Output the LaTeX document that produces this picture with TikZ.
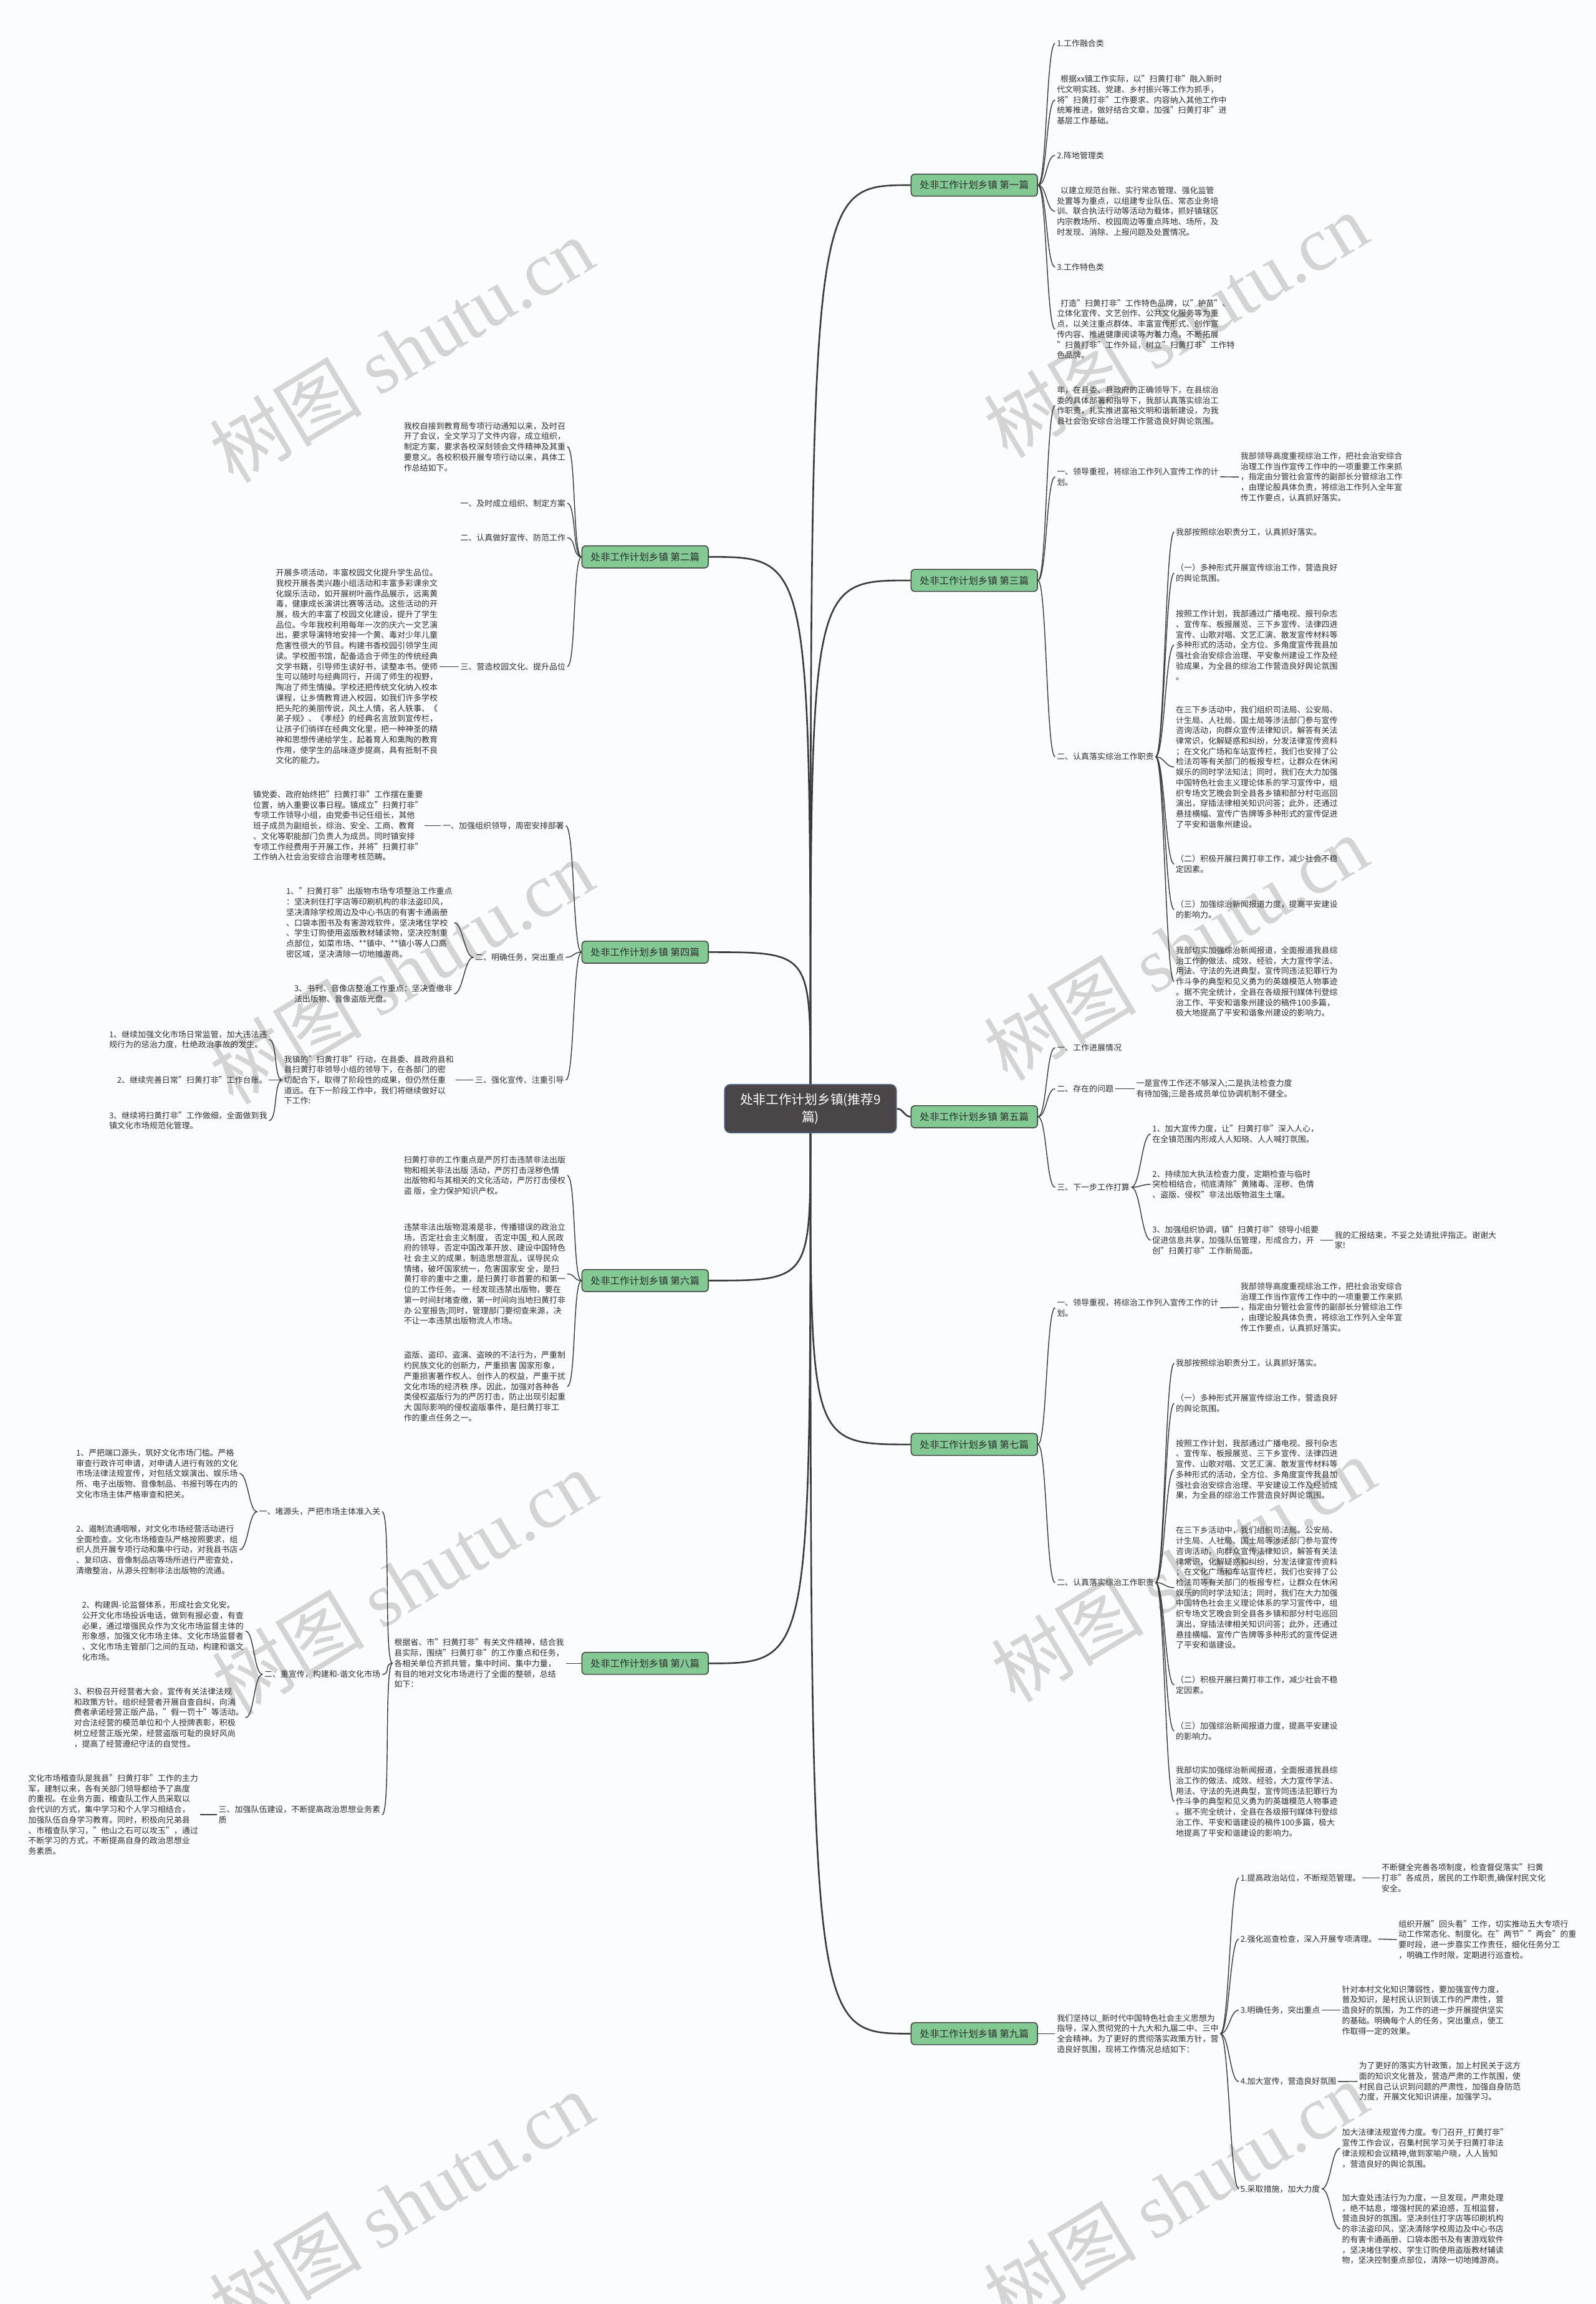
\documentclass[tikz,border=0pt]{standalone}
\usepackage{fontspec}
\setmainfont{Noto Sans CJK SC}
\newfontfamily\markfont{Liberation Serif}
\definecolor{BgTint}{HTML}{FAFCFD}
\definecolor{Ink}{HTML}{2E2E2E}
\definecolor{Wire}{HTML}{3A3A3A}
\definecolor{LeafGreen}{HTML}{82C994}
\definecolor{RootGray}{HTML}{4A4648}
\definecolor{RootEdge}{HTML}{4E6F93}
\definecolor{Mark}{HTML}{D4D4D4}
\newcommand\leaffont{\fontsize{5.5pt}{7.1pt}\selectfont}
\tikzset{
  root/.style={fill=RootGray, draw=RootEdge, line width=0.6pt, rounded corners=4pt,
    text=white, font=\fontsize{8.8pt}{12pt}\selectfont, align=center,
    minimum width=117pt, minimum height=33pt, inner sep=0pt},
  branch/.style={fill=LeafGreen, draw=Wire, line width=0.6pt, rounded corners=2.5pt,
    text=Ink, font=\fontsize{6.6pt}{8pt}\selectfont,
    minimum width=86pt, minimum height=15pt, inner sep=0pt},
  txt/.style={font=\leaffont, text=Ink, align=left, inner sep=1pt},
  rtxt/.style={txt, anchor=west},
  ltxt/.style={txt, anchor=east},
  trunk/.style={draw=Wire, line width=1.1pt},
  link/.style={draw=Wire, line width=0.6pt},
  goright/.style={out=0, in=180, distance=6pt},
  goleft/.style={out=180, in=0, distance=6pt},
  wmark/.style={text=Mark, rotate=31, inner sep=0pt,
    font=\fontsize{52pt}{52pt}\selectfont}
}

\begin{document}
\begin{tikzpicture}[x=1pt,y=-1pt]
\useasboundingbox (0,0) rectangle (1086,1568);
\fill[BgTint] (0,0) rectangle (1086,1568);

% watermarks
\foreach \wx/\wy [count=\i] in {273/238, 273/661, 275/1077, 273/1500,
    800/221, 800/645, 805/1068, 800/1493}
  \node[wmark] (wm\i) at (\wx,\wy) {树图 {\markfont shutu.cn}};

\node[root] (hub) at (551.5,754.5) {处非工作计划乡镇(推荐9\\篇)};

\node[branch] (b1) at (663,126) {处非工作计划乡镇 第一篇};
\node[branch] (b2) at (439,379) {处非工作计划乡镇 第二篇};
\node[branch] (b3) at (663,395) {处非工作计划乡镇 第三篇};
\node[branch] (b4) at (439,648) {处非工作计划乡镇 第四篇};
\node[branch] (b5) at (663,760) {处非工作计划乡镇 第五篇};
\node[branch] (b6) at (439,871.5) {处非工作计划乡镇 第六篇};
\node[branch] (b7) at (663,983) {处非工作计划乡镇 第七篇};
\node[branch] (b8) at (439,1132) {处非工作计划乡镇 第八篇};
\node[branch] (b9) at (663,1384) {处非工作计划乡镇 第九篇};

\foreach \b in {b1,b3}
  \draw[trunk] (hub.north) .. controls (hub.north |- \b.west) .. (\b.west);
\foreach \b in {b2,b4}
  \draw[trunk] (hub.north) .. controls (hub.north |- \b.east) .. (\b.east);
\foreach \b in {b7,b9}
  \draw[trunk] (hub.south) .. controls (hub.south |- \b.west) .. (\b.west);
\foreach \b in {b6,b8}
  \draw[trunk] (hub.south) .. controls (hub.south |- \b.east) .. (\b.east);
\draw[trunk] (hub.east) to[out=0,in=180] (b5.west);

% first
\node[rtxt] (t1a) at (718,29.5) {1.工作融合类};
\node[rtxt] (t1b) at (718,68) {\hspace{0.45em}根据xx镇工作实际，以"扫黄打非"融入新时\\代文明实践、党建、乡村振兴等工作为抓手，\\将"扫黄打非"工作要求、内容纳入其他工作中\\统筹推进，做好结合文章，加强"扫黄打非"进\\基层工作基础。};
\node[rtxt] (t1c) at (718,105.7) {2.阵地管理类};
\node[rtxt] (t1d) at (718,143.8) {\hspace{0.45em}以建立规范台账、实行常态管理、强化监管\\处置等为重点，以组建专业队伍、常态业务培\\训、联合执法行动等活动为载体，抓好镇辖区\\内宗教场所、校园周边等重点阵地、场所，及\\时发现、消除、上报问题及处置情况。};
\node[rtxt] (t1e) at (718,181.8) {3.工作特色类};
\node[rtxt] (t1f) at (718,224) {\hspace{0.45em}打造"扫黄打非"工作特色品牌，以"护苗"、\\立体化宣传、文艺创作、公共文化服务等为重\\点，以关注重点群体、丰富宣传形式、创作宣\\传内容、推进健康阅读等为着力点，不断拓展\\"扫黄打非"工作外延，树立"扫黄打非"工作特\\色品牌。};
\foreach \c in {t1a,t1b,t1c,t1d,t1e,t1f}
  \draw[link] (b1.east) to[goright] (\c.west);

% third
\node[rtxt] (t3a) at (718,276) {年，在县委、县政府的正确领导下，在县综治\\委的具体部署和指导下，我部认真落实综治工\\作职责，扎实推进富裕文明和谐新建设，为我\\县社会治安综合治理工作营造良好舆论氛围。};
\node[rtxt] (t3b) at (718,324.5) {一、领导重视，将综治工作列入宣传工作的计\\划。};
\node[rtxt] (t3c) at (843,324.6) {我部领导高度重视综治工作，把社会治安综合\\治理工作当作宣传工作中的一项重要工作来抓\\，指定由分管社会宣传的副部长分管综治工作\\，由理论股具体负责，将综治工作列入全年宣\\传工作要点，认真抓好落实。};
\node[rtxt] (t3d) at (718,515) {二、认真落实综治工作职责};
\node[rtxt] (t3e) at (799,362) {我部按照综治职责分工，认真抓好落实。};
\node[rtxt] (t3f) at (799,390) {（一）多种形式开展宣传综治工作，营造良好\\的舆论氛围。};
\node[rtxt] (t3g) at (799,439) {按照工作计划，我部通过广播电视、报刊杂志\\、宣传车、板报展览、三下乡宣传、法律四进\\宣传、山歌对唱、文艺汇演、散发宣传材料等\\多种形式的活动，全方位、多角度宣传我县加\\强社会治安综合治理、平安象州建设工作及经\\验成果，为全县的综治工作营造良好舆论氛围\\。};
\node[rtxt] (t3h) at (799,522) {在三下乡活动中，我们组织司法局、公安局、\\计生局、人社局、国土局等涉法部门参与宣传\\咨询活动，向群众宣传法律知识，解答有关法\\律常识，化解疑惑和纠纷，分发法律宣传资料\\；在文化广场和车站宣传栏，我们也安排了公\\检法司等有关部门的板报专栏，让群众在休闲\\娱乐的同时学法知法；同时，我们在大力加强\\中国特色社会主义理论体系的学习宣传中，组\\织专场文艺晚会到全县各乡镇和部分村屯巡回\\演出，穿插法律相关知识问答；此外，还通过\\悬挂横幅、宣传广告牌等多种形式的宣传促进\\了平安和谐象州建设。};
\node[rtxt] (t3i) at (799,588) {（二）积极开展扫黄打非工作，减少社会不稳\\定因素。};
\node[rtxt] (t3j) at (799,619) {（三）加强综治新闻报道力度，提高平安建设\\的影响力。};
\node[rtxt] (t3k) at (799,668) {我部切实加强综治新闻报道，全面报道我县综\\治工作的做法、成效、经验，大力宣传学法、\\用法、守法的先进典型，宣传同违法犯罪行为\\作斗争的典型和见义勇为的英雄模范人物事迹\\。据不完全统计，全县在各级报刊媒体刊登综\\治工作、平安和谐象州建设的稿件100多篇，\\极大地提高了平安和谐象州建设的影响力。};
\foreach \c in {t3a,t3b,t3d}
  \draw[link] (b3.east) to[goright] (\c.west);
\draw[link] (t3b.east) -- (t3c.west);
\foreach \c in {t3e,t3f,t3g,t3h,t3i,t3j,t3k}
  \draw[link] (t3d.east) to[goright] (\c.west);

% fifth
\node[rtxt] (t5a) at (718,713) {一、工作进展情况};
\node[rtxt] (t5b) at (718,741) {二、存在的问题};
\node[rtxt] (t5c) at (772,741) {一是宣传工作还不够深入;二是执法检查力度\\有待加强;三是各成员单位协调机制不健全。};
\node[rtxt] (t5d) at (718,808) {三、下一步工作打算};
\node[rtxt] (t5e) at (783,771.7) {1、加大宣传力度，让"扫黄打非"深入人心，\\在全镇范围内形成人人知晓、人人喊打氛围。};
\node[rtxt] (t5f) at (783,806) {2、持续加大执法检查力度，定期检查与临时\\突检相结合，彻底清除"黄赌毒、淫秽、色情\\、盗版、侵权"非法出版物滋生土壤。};
\node[rtxt] (t5g) at (783,844) {3、加强组织协调，镇"扫黄打非"领导小组要\\促进信息共享，加强队伍管理，形成合力，开\\创"扫黄打非"工作新局面。};
\node[rtxt] (t5h) at (907,844) {我的汇报结束，不妥之处请批评指正。谢谢大\\家!};
\foreach \c in {t5a,t5b,t5d}
  \draw[link] (b5.east) to[goright] (\c.west);
\draw[link] (t5b.east) -- (t5c.west);
\foreach \c in {t5e,t5f,t5g}
  \draw[link] (t5d.east) to[goright] (\c.west);
\draw[link] (t5g.east) -- (t5h.west);

% seventh
\node[rtxt] (t7a) at (718,890) {一、领导重视，将综治工作列入宣传工作的计\\划。};
\node[rtxt] (t7b) at (843,889.7) {我部领导高度重视综治工作，把社会治安综合\\治理工作当作宣传工作中的一项重要工作来抓\\，指定由分管社会宣传的副部长分管综治工作\\，由理论股具体负责，将综治工作列入全年宣\\传工作要点，认真抓好落实。};
\node[rtxt] (t7c) at (718,1077) {二、认真落实综治工作职责};
\node[rtxt] (t7d) at (799,927.8) {我部按照综治职责分工，认真抓好落实。};
\node[rtxt] (t7e) at (799,955) {（一）多种形式开展宣传综治工作，营造良好\\的舆论氛围。};
\node[rtxt] (t7f) at (799,1000) {按照工作计划，我部通过广播电视、报刊杂志\\、宣传车、板报展览、三下乡宣传、法律四进\\宣传、山歌对唱、文艺汇演、散发宣传材料等\\多种形式的活动，全方位、多角度宣传我县加\\强社会治安综合治理、平安建设工作及经验成\\果，为全县的综治工作营造良好舆论氛围。};
\node[rtxt] (t7g) at (799,1080.5) {在三下乡活动中，我们组织司法局、公安局、\\计生局、人社局、国土局等涉法部门参与宣传\\咨询活动，向群众宣传法律知识，解答有关法\\律常识，化解疑惑和纠纷，分发法律宣传资料\\；在文化广场和车站宣传栏，我们也安排了公\\检法司等有关部门的板报专栏，让群众在休闲\\娱乐的同时学法知法；同时，我们在大力加强\\中国特色社会主义理论体系的学习宣传中，组\\织专场文艺晚会到全县各乡镇和部分村屯巡回\\演出，穿插法律相关知识问答；此外，还通过\\悬挂横幅、宣传广告牌等多种形式的宣传促进\\了平安和谐建设。};
\node[rtxt] (t7h) at (799,1146.7) {（二）积极开展扫黄打非工作，减少社会不稳\\定因素。};
\node[rtxt] (t7i) at (799,1178) {（三）加强综治新闻报道力度，提高平安建设\\的影响力。};
\node[rtxt] (t7j) at (799,1226) {我部切实加强综治新闻报道，全面报道我县综\\治工作的做法、成效、经验，大力宣传学法、\\用法、守法的先进典型，宣传同违法犯罪行为\\作斗争的典型和见义勇为的英雄模范人物事迹\\。据不完全统计，全县在各级报刊媒体刊登综\\治工作、平安和谐建设的稿件100多篇，极大\\地提高了平安和谐建设的影响力。};
\foreach \c in {t7a,t7c}
  \draw[link] (b7.east) to[goright] (\c.west);
\draw[link] (t7a.east) -- (t7b.west);
\foreach \c in {t7d,t7e,t7f,t7g,t7h,t7i,t7j}
  \draw[link] (t7c.east) to[goright] (\c.west);

% ninth
\node[rtxt] (t9a) at (718,1384) {我们坚持以\_新时代中国特色社会主义思想为\\指导，深入贯彻党的十九大和九届二中、三中\\全会精神。为了更好的贯彻落实政策方针，营\\造良好氛围，现将工作情况总结如下：};
\node[rtxt] (t9b) at (843,1278) {1.提高政治站位，不断规范管理。};
\node[rtxt] (t9c) at (939,1278) {不断健全完善各项制度，检查督促落实"扫黄\\打非"各成员，居民的工作职责,确保村民文化\\安全。};
\node[rtxt] (t9d) at (843,1319.6) {2.强化巡查检查，深入开展专项清理。};
\node[rtxt] (t9e) at (950.5,1320) {组织开展"回头看"工作，切实推动五大专项行\\动工作常态化、制度化。在"两节""两会"的重\\要时段，进一步靠实工作责任，细化任务分工\\，明确工作时限，定期进行巡查检。};
\node[rtxt] (t9f) at (843,1368) {3.明确任务，突出重点};
\node[rtxt] (t9g) at (912,1368) {针对本村文化知识薄弱性，要加强宣传力度，\\普及知识，是村民认识到该工作的严肃性，营\\造良好的氛围，为工作的进一步开展提供坚实\\的基础。明确每个人的任务，突出重点，使工\\作取得一定的效果。};
\node[rtxt] (t9h) at (843,1416.6) {4.加大宣传，营造良好氛围};
\node[rtxt] (t9i) at (923.6,1416.5) {为了更好的落实方针政策，加上村民关于这方\\面的知识文化普及，营造严肃的工作氛围，使\\村民自己认识到问题的严肃性，加强自身防范\\力度，开展文化知识讲座，加强学习。};
\node[rtxt] (t9j) at (843,1489.6) {5.采取措施，加大力度};
\node[rtxt] (t9k) at (912,1462) {加大法律法规宣传力度。专门召开\_打黄打非"\\宣传工作会议，召集村民学习关于扫黄打非法\\律法规和会议精神,做到家喻户晓，人人皆知\\，营造良好的舆论氛围。};
\node[rtxt] (t9l) at (912,1517) {加大查处违法行为力度，一旦发现，严肃处理\\，绝不姑息，增强村民的紧迫感，互相监督，\\营造良好的氛围。坚决刹住打字店等印刷机构\\的非法盗印风，坚决清除学校周边及中心书店\\的有害卡通画册、口袋本图书及有害游戏软件\\，坚决堵住学校、学生订购使用盗版教材辅读\\物，坚决控制重点部位，清除一切地摊游商。};
\draw[link] (b9.east) -- (t9a.west);
\foreach \c in {t9b,t9d,t9f,t9h,t9j}
  \draw[link] (t9a.east) to[goright] (\c.west);
\draw[link] (t9b.east) -- (t9c.west);
\draw[link] (t9d.east) -- (t9e.west);
\draw[link] (t9f.east) -- (t9g.west);
\draw[link] (t9h.east) -- (t9i.west);
\foreach \c in {t9k,t9l}
  \draw[link] (t9j.east) to[goright] (\c.west);

% second
\node[ltxt] (t2a) at (386,304) {我校自接到教育局专项行动通知以来，及时召\\开了会议，全文学习了文件内容，成立组织，\\制定方案，要求各校深刻领会文件精神及其重\\要意义。各校积极开展专项行动以来，具体工\\作总结如下。};
\node[ltxt] (t2b) at (386,342.5) {一、及时成立组织、制定方案};
\node[ltxt] (t2c) at (386,366) {二、认真做好宣传、防范工作};
\node[ltxt] (t2d) at (386,453.6) {三、营造校园文化、提升品位};
\node[ltxt] (t2e) at (299,453.6) {开展多项活动，丰富校园文化提升学生品位。\\我校开展各类兴趣小组活动和丰富多彩课余文\\化娱乐活动，如开展树叶画作品展示，远离黄\\毒，健康成长演讲比赛等活动。这些活动的开\\展，极大的丰富了校园文化建设，提升了学生\\品位。今年我校利用每年一次的庆六一文艺演\\出，要求导演特地安排一个黄、毒对少年儿童\\危害性很大的节目。构建书香校园引领学生阅\\读。学校图书馆，配备适合于师生的传统经典\\文学书籍，引导师生读好书，读整本书。使师\\生可以随时与经典同行，开阔了师生的视野，\\陶冶了师生情操。学校还把传统文化纳入校本\\课程，让乡情教育进入校园，如我们许多学校\\把头陀的美丽传说，风土人情，名人轶事、《\\弟子规》、《孝经》的经典名言放到宣传栏，\\让孩子们徜徉在经典文化里，把一种神圣的精\\神和思想传递给学生，起着育人和熏陶的教育\\作用，使学生的品味逐步提高，具有抵制不良\\文化的能力。};
\foreach \c in {t2a,t2b,t2c,t2d}
  \draw[link] (b2.west) to[goleft] (\c.east);
\draw[link] (t2d.west) -- (t2e.east);

% fourth
\node[ltxt] (t4a) at (385,562) {一、加强组织领导，周密安排部署};
\node[ltxt] (t4b) at (289,562) {镇党委、政府始终把"扫黄打非"工作摆在重要\\位置，纳入重要议事日程。镇成立"扫黄打非"\\专项工作领导小组，由党委书记任组长，其他\\班子成员为副组长，综治、安全、工商、教育\\、文化等职能部门负责人为成员。同时镇安排\\专项工作经费用于开展工作，并将"扫黄打非"\\工作纳入社会治安综合治理考核范畴。};
\node[ltxt] (t4c) at (385,651.5) {二、明确任务，突出重点};
\node[ltxt] (t4d) at (309,628) {1、"扫黄打非"出版物市场专项整治工作重点\\：坚决刹住打字店等印刷机构的非法盗印风，\\坚决清除学校周边及中心书店的有害卡通画册\\、口袋本图书及有害游戏软件，坚决堵住学校\\、学生订购使用盗版教材辅读物，坚决控制重\\点部位，如菜市场、**镇中、**镇小等人口高\\密区域，坚决清除一切地摊游商。};
\node[ltxt] (t4e) at (309,676.4) {3、书刊、音像店整治工作重点：坚决查缴非\\法出版物、音像盗版光盘。};
\node[ltxt] (t4f) at (385,735) {三、强化宣传、注重引导};
\node[ltxt] (t4g) at (310,735) {我镇的"扫黄打非"行动，在县委、县政府县和\\县扫黄打非领导小组的领导下，在各部门的密\\切配合下，取得了阶段性的成果，但仍然任重\\道远。在下一阶段工作中，我们将继续做好以\\下工作:};
\node[ltxt] (t4h) at (183,707.5) {1、继续加强文化市场日常监管，加大违法违\\规行为的惩治力度，杜绝政治事故的发生。};
\node[ltxt] (t4i) at (183,735) {2、继续完善日常"扫黄打非"工作台账。};
\node[ltxt] (t4j) at (183,762.6) {3、继续将扫黄打非"工作做细，全面做到我\\镇文化市场规范化管理。};
\foreach \c in {t4a,t4c,t4f}
  \draw[link] (b4.west) to[goleft] (\c.east);
\draw[link] (t4a.west) -- (t4b.east);
\foreach \c in {t4d,t4e}
  \draw[link] (t4c.west) to[goleft] (\c.east);
\draw[link] (t4f.west) -- (t4g.east);
\foreach \c in {t4h,t4i,t4j}
  \draw[link] (t4g.west) to[goleft] (\c.east);

% sixth
\node[ltxt] (t6a) at (386,800) {扫黄打非的工作重点是严厉打击违禁非法出版\\物和相关非法出版 活动，严厉打击淫秽色情\\出版物和与其相关的文化活动，严厉打击侵权\\盗 版，全力保护知识产权。};
\node[ltxt] (t6b) at (386,867) {违禁非法出版物混淆是非，传播错误的政治立\\场，否定社会主义制度， 否定中国\_和人民政\\府的领导，否定中国改革开放、建设中国特色\\社 会主义的成果，制造思想混乱，误导民众\\情绪，破坏国家统一，危害国家安 全，是扫\\黄打非的重中之重，是扫黄打非首要的和第一\\位的工作任务。 一 经发现违禁出版物，要在\\第一时间封堵查缴，第一时间向当地扫黄打非\\办 公室报告;同时，管理部门要彻查来源，决\\不让一本违禁出版物流人市场。};
\node[ltxt] (t6c) at (386,943.6) {盗版、盗印、盗演、盗映的不法行为，严重制\\约民族文化的创新力，严重损害 国家形象，\\严重损害著作权人、创作人的权益，严重干扰\\文化市场的经济秩 序。因此，加强对各种各\\类侵权盗版行为的严厉打击，防止出现引起重\\大 国际影响的侵权盗版事件，是扫黄打非工\\作的重点任务之一。};
\foreach \c in {t6a,t6b,t6c}
  \draw[link] (b6.west) to[goleft] (\c.east);

% eighth
\node[ltxt] (t8a) at (385,1132) {根据省、市"扫黄打非"有关文件精神，结合我\\县实际，围绕"扫黄打非"的工作重点和任务，\\各相关单位齐抓共管，集中时间、集中力量，\\有目的地对文化市场进行了全面的整顿，总结\\如下：};
\node[ltxt] (t8b) at (260,1028.8) {一、堵源头，严把市场主体准入关};
\node[ltxt] (t8c) at (163,1002.8) {1、严把端口源头，筑好文化市场门槛。严格\\审查行政许可申请，对申请人进行有效的文化\\市场法律法规宣传，对包括文娱演出、娱乐场\\所、电子出版物、音像制品、书报刊等在内的\\文化市场主体严格审查和把关。};
\node[ltxt] (t8d) at (163,1054.7) {2、遏制流通咽喉，对文化市场经营活动进行\\全面检查。文化市场稽查队严格按照要求，组\\织人员开展专项行动和集中行动，对我县书店\\、复印店、音像制品店等场所进行严密查处，\\清缴整治，从源头控制非法出版物的流通。};
\node[ltxt] (t8e) at (260,1139.5) {二、重宣传，构建和-谐文化市场};
\node[ltxt] (t8f) at (167,1110) {2、构建舆-论监督体系，形成社会文化安。\\公开文化市场投诉电话，做到有报必查，有查\\必果，通过增强民众作为文化市场监督主体的\\形象感，加强文化市场主体、文化市场监督者\\、文化市场主管部门之间的互动，构建和谐文\\化市场。};
\node[ltxt] (t8g) at (167,1169) {3、积极召开经营者大会，宣传有关法律法规\\和政策方针。组织经营者开展自查自纠，向消\\费者承诺经营正版产品，"假一罚十"等活动。\\对合法经营的模范单位和个人授牌表彰，积极\\树立经营正版光荣，经营盗版可耻的良好风尚\\，提高了经营遵纪守法的自觉性。};
\node[ltxt] (t8h) at (260,1235) {三、加强队伍建设，不断提高政治思想业务素\\质};
\node[ltxt] (t8i) at (136,1235) {文化市场稽查队是我县"扫黄打非"工作的主力\\军，建制以来，各有关部门领导都给予了高度\\的重视。在业务方面，稽查队工作人员采取以\\会代训的方式，集中学习和个人学习相结合，\\加强队伍自身学习教育。同时，积极向兄弟县\\、市稽查队学习，"他山之石可以攻玉"，通过\\不断学习的方式，不断提高自身的政治思想业\\务素质。};
\draw[link] (b8.west) -- (t8a.east);
\foreach \c in {t8b,t8e,t8h}
  \draw[link] (t8a.west) to[goleft] (\c.east);
\foreach \c in {t8c,t8d}
  \draw[link] (t8b.west) to[goleft] (\c.east);
\foreach \c in {t8f,t8g}
  \draw[link] (t8e.west) to[goleft] (\c.east);
\draw[link] (t8h.west) -- (t8i.east);
\end{tikzpicture}
\end{document}
